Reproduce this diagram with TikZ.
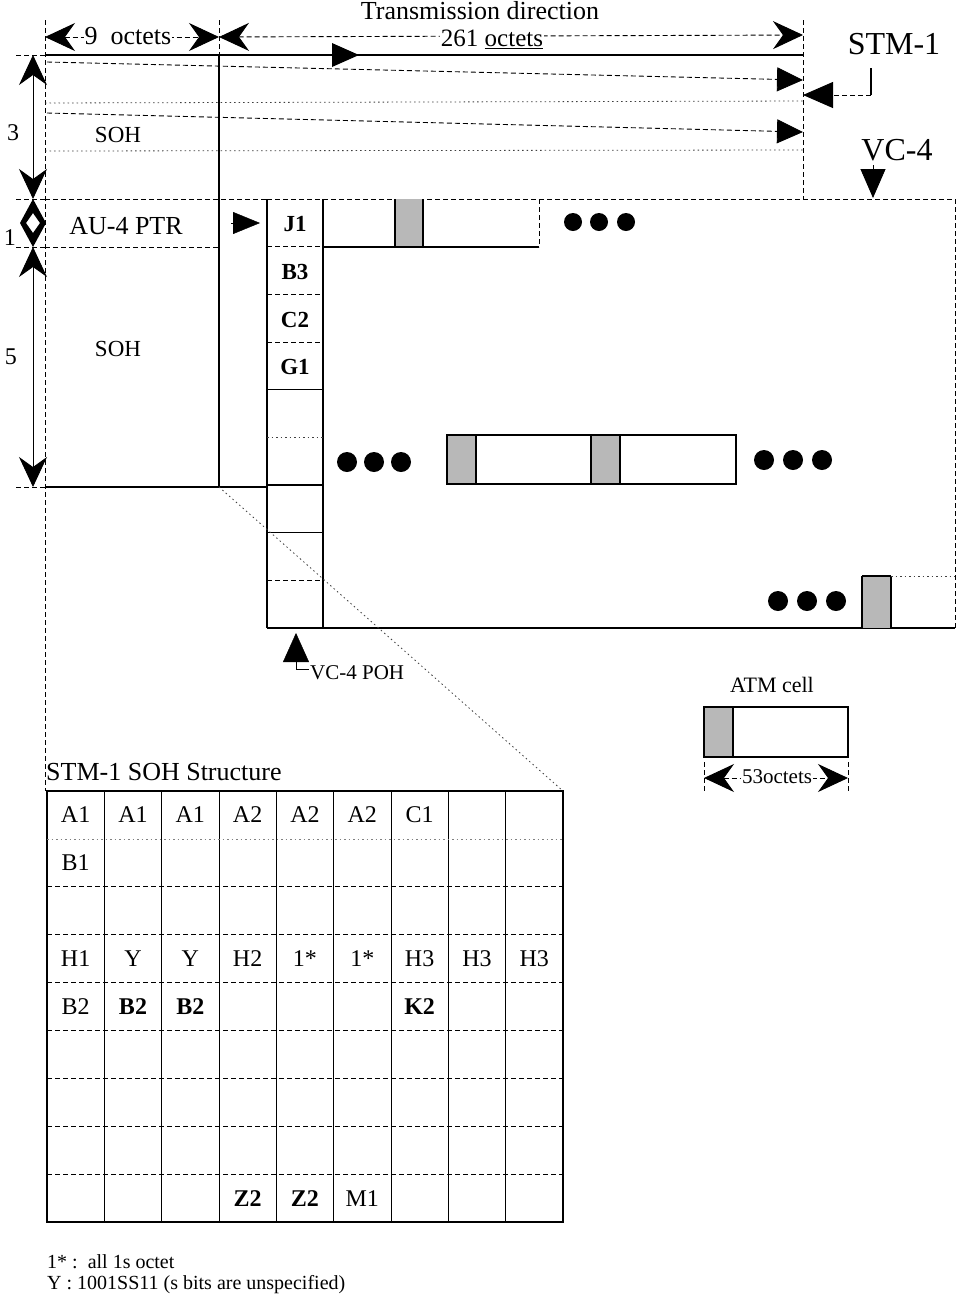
\documentclass[tikz,border=0pt]{standalone}
\usepackage{fontspec}
\setmainfont{Liberation Serif}
\usetikzlibrary{arrows.meta}
\newcommand\setfs[1]{\fontsize{#1}{#1}\selectfont}
\begin{document}
\begin{tikzpicture}[x=1pt,y=-1pt,
  ln/.style={line width=1.2pt},
  thinln/.style={line width=0.9pt},
  dsh/.style={line width=0.9pt,dash pattern=on 5pt off 3pt},
  dotln/.style={line width=0.8pt,dash pattern=on 1.5pt off 3pt,black!75},
  shd/.style={fill=black!28},
  dimtip/.tip={Stealth[length=30pt,width=28pt,inset=10pt]},
  tri/.tip={Triangle[length=26pt,width=24pt]},
  txt/.style={inner sep=0pt,font={\setfs{#1}}},
  lab/.style={fill=white,inner sep=2pt,font={\setfs{#1}}},
  poh/.style={inner sep=0pt,font={\setfs{23}\bfseries}},
  glab/.style={inner sep=0pt,font={\setfs{24}}},
  glabb/.style={inner sep=0pt,font={\setfs{24}\bfseries}},
  dotc/.style={fill=black}
]
\useasboundingbox (0,0) rectangle (957,1302);
\fill[white] (0,0) rectangle (957,1302);

% ---------- STM-1 frame ----------
\coordinate (fTL) at (45,55);
\coordinate (fTR) at (803,55);
\draw[ln] (fTL) -- (fTR);
\draw[dsh] (45,20) -- (45,791);
\draw[dsh] (219,20) -- (219,55);
\draw[ln] (219,55) -- (219,487);
\draw[dsh] (803,20) -- (803,199);
\draw[dotln] (45,103) -- (803,101);
\draw[dotln] (45,151) -- (803,150);
\draw[dsh] (45,199) -- (267,199);
\draw[dsh] (45,247) -- (219,247);
\draw[ln] (45,487) -- (267,487);

% transmission direction triangle on top line
\fill (332,43) -- (359,55) -- (332,67) -- cycle;

% slanted row-order arrows
\coordinate (r1a) at (47,62);  \coordinate (r1b) at (803,80);
\coordinate (r2a) at (47,113); \coordinate (r2b) at (803,132);
\draw[dsh,-{tri}] (r1a) -- (r1b);
\draw[dsh,-{tri}] (r2a) -- (r2b);

% top dimensions
\coordinate (d9l) at (45,37);  \coordinate (d9r) at (219,37);
\coordinate (d261l) at (219,37); \coordinate (d261r) at (803,35);
\draw[dsh,{dimtip}-{dimtip}] (d9l) -- (d9r);
\draw[dsh,{dimtip}-{dimtip}] (d261l) -- (d261r);
\node[lab=26,inner sep=1pt] (oct9) at (128,36) {9~~octets};
\node[lab=25,inner sep=0.5pt] (oct261) at (492,39) {261 \underline{octets}};
\node[txt=26] (tdir) at (480,11) {Transmission direction};

% left vertical dimensions
\draw[dsh] (16,55) -- (45,55);
\draw[dsh] (16,199) -- (45,199);
\draw[dsh] (16,247) -- (45,247);
\draw[dsh] (16,487) -- (45,487);
\coordinate (v3t) at (33,55);  \coordinate (v3b) at (33,199);
\coordinate (v5t) at (33,247); \coordinate (v5b) at (33,487);
\draw[thinln,{dimtip}-{dimtip}] (v3t) -- (v3b);
\draw[thinln,{dimtip}-{dimtip}] (v5t) -- (v5b);
\fill[even odd rule] (33,199) -- (46,223) -- (33,247) -- (20,223) -- cycle
                     (33,213) -- (40,223) -- (33,233) -- (26,223) -- cycle;
\node[txt=24] (n3) at (13,133) {3};
\node[txt=24] (n1) at (10,238) {1};
\node[txt=24] (n5) at (11,357) {5};

% left labels
\node[txt=23] (soh1) at (118,135) {SOH};
\node[txt=26] (au4) at (126,226) {AU-4 PTR};
\node[txt=23] (soh2) at (118,349) {SOH};
\coordinate (ptrA) at (231,223); \coordinate (ptrB) at (260,223);
\draw[-{Triangle[length=27pt,width=22pt]}] (ptrA) -- (ptrB);

% STM-1 label and pointer
\node[txt=32] (stm) at (894,44) {STM-1};
\coordinate (stmA) at (871,68); \coordinate (stmB) at (871,95); \coordinate (stmC) at (803,95);
\draw[ln] (stmA) -- (stmB);
\draw[dsh,-{Triangle[length=30pt,width=26pt]}] (stmB) -- (stmC);

% VC-4 label and pointer
\node[txt=32] (vc4) at (897,150) {VC-4};
\coordinate (vc4A) at (873,165); \coordinate (vc4B) at (873,198);
\draw[dsh,-{Triangle[length=29pt,width=25pt]}] (vc4A) -- (vc4B);

% ---------- VC-4 box ----------
\draw[dsh] (267,199) -- (955,199);
\draw[dsh] (955,199) -- (955,628);
\draw[ln] (267,628) -- (955,628);
\draw[ln] (267,199) -- (267,628);
\draw[ln] (323,199) -- (323,628);
\draw[dsh] (267,246.7) -- (323,246.7);
\draw[dsh] (267,294.3) -- (323,294.3);
\draw[dsh] (267,342) -- (323,342);
\draw[ln] (267,389.7) -- (323,389.7);
\draw[dotln] (267,437.3) -- (323,437.3);
\draw[ln] (267,485) -- (323,485);
\draw[ln] (267,532.7) -- (323,532.7);
\draw[dsh] (267,580.3) -- (323,580.3);
\node[poh] (j1) at (295,224) {J1};
\node[poh] (b3) at (295,272) {B3};
\node[poh] (c2) at (295,320) {C2};
\node[poh] (g1) at (295,367) {G1};

% ATM cell in J1 row
\fill[shd] (395,199) rectangle (423,247);
\draw[ln] (323,247) -- (539,247);
\draw[dsh] (539,199) -- (539,247);
\draw[line width=1.5pt] (395,199) -- (395,247) (423,199) -- (423,247);
\fill[dotc] (573,222) circle (9) (599,222) circle (9) (626,222) circle (9);

% middle row cells
\fill[shd] (447,435) rectangle (476,484);
\fill[shd] (591,435) rectangle (620,484);
\draw[ln] (447,435) rectangle (736,484);
\draw[line width=1.6pt] (476,435) -- (476,484) (591,435) -- (591,484) (620,435) -- (620,484);
\fill[dotc] (347,462) circle (10) (374,462) circle (10) (401,462) circle (10);
\fill[dotc] (764,460) circle (10) (793,460) circle (10) (822,460) circle (10);

% bottom row cell
\fill[shd] (862,576) rectangle (891,628);
\draw[ln] (862,576) -- (891,576) (862,576) -- (862,628) (891,576) -- (891,628);
\draw[dotln] (891,576) -- (955,576);
\fill[dotc] (778,601) circle (10) (807,601) circle (10) (836,601) circle (10);

% VC-4 POH pointer
\coordinate (pohA) at (296,662); \coordinate (pohB) at (296,633);
\draw[-{Triangle[length=29pt,width=26pt]}] (pohA) -- (pohB);
\coordinate (pohC) at (296,669); \coordinate (pohD) at (309,669);
\draw[thinln] (pohA) -- (pohC) -- (pohD);
\node[txt=21,anchor=west] (pohl) at (310,673) {VC-4 POH};

% diagonal to SOH structure
\draw[dotln] (219,487) -- (563,791);

% ---------- ATM cell legend ----------
\node[txt=22] (atml) at (772,685) {ATM cell};
\fill[shd] (704,707) rectangle (733,757);
\draw[ln] (704,707) rectangle (848,757);
\draw[line width=1.5pt] (733,707) -- (733,757);
\draw[dsh] (704,762) -- (704,792);
\draw[dsh] (848,762) -- (848,792);
\coordinate (d53l) at (704,778); \coordinate (d53r) at (848,778);
\draw[dsh,{dimtip}-{dimtip}] (d53l) -- (d53r);
\node[lab=21,inner sep=1pt] (oct53) at (777,777) {53octets};

% ---------- STM-1 SOH structure grid ----------
\node[txt=26,anchor=west] (gtitle) at (46,772) {STM-1 SOH Structure};
\draw[ln] (47,791) rectangle (563,1222);
\foreach \i in {1,...,8} \draw[thinln] ({47+\i*57.33},791) -- ({47+\i*57.33},1222);
\draw[dotln,black!50] (47,838.9) -- (563,838.9);
\foreach \j in {2,...,8} \draw[dsh] (47,{791+\j*47.9}) -- (563,{791+\j*47.9});
\foreach \c/\r/\t [count=\n] in {1/1/A1,2/1/A1,3/1/A1,4/1/A2,5/1/A2,6/1/A2,7/1/C1,
    1/2/B1,1/4/H1,2/4/Y,3/4/Y,4/4/H2,5/4/1*,6/4/1*,7/4/H3,8/4/H3,9/4/H3,
    1/5/B2,6/9/M1}
  \node[glab] (g\n) at ({47+(\c-0.5)*57.33},{791+(\r-0.5)*47.9}) {\t};
\foreach \c/\r/\t [count=\n] in {2/5/B2,3/5/B2,7/5/K2,4/9/Z2,5/9/Z2}
  \node[glabb] (gb\n) at ({47+(\c-0.5)*57.33},{791+(\r-0.5)*47.9}) {\t};

% footnotes
\node[txt=20,anchor=west] (fn1) at (47,1262) {1* :~~all 1s octet};
\node[txt=20,anchor=west] (fn2) at (47,1285) {Y : 1001SS11 (s bits are unspecified)};
\end{tikzpicture}
\end{document}
